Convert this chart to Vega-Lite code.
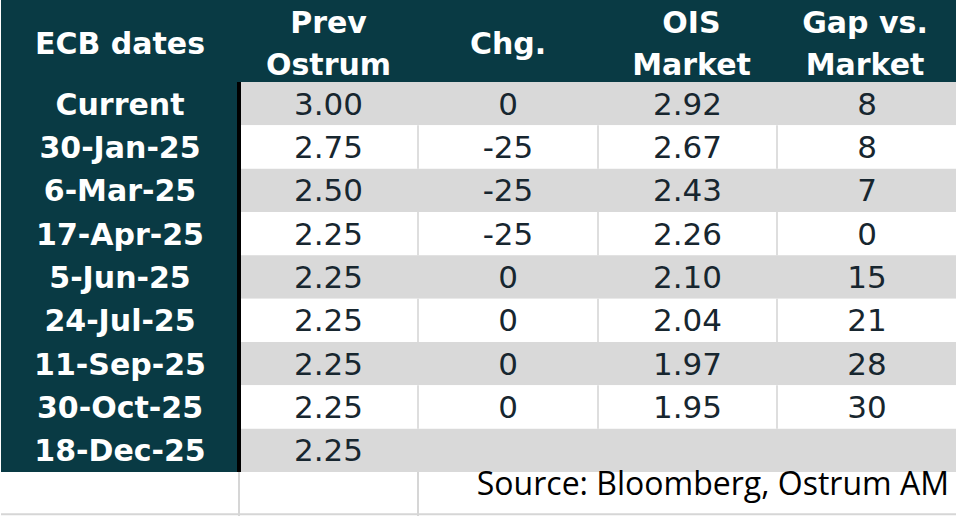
{
  "$schema": "https://vega.github.io/schema/vega-lite/v6.json",
  "padding": 0,
  "spacing": 0,
  "bounds": "flush",
  "background": "white",
  "config": {
    "view": {"stroke": null},
    "concat": {"spacing": 0},
    "locale": {"number": {"decimal": ".", "thousands": ",", "grouping": [3], "currency": ["", ""], "minus": "-"}}
  },
  "datasets": {
    "ecb": [
      {"date": "Current", "prev": 3.00, "chg": 0, "ois": 2.92, "gap": 8},
      {"date": "30-Jan-25", "prev": 2.75, "chg": -25, "ois": 2.67, "gap": 8},
      {"date": "6-Mar-25", "prev": 2.50, "chg": -25, "ois": 2.43, "gap": 7},
      {"date": "17-Apr-25", "prev": 2.25, "chg": -25, "ois": 2.26, "gap": 0},
      {"date": "5-Jun-25", "prev": 2.25, "chg": 0, "ois": 2.10, "gap": 15},
      {"date": "24-Jul-25", "prev": 2.25, "chg": 0, "ois": 2.04, "gap": 21},
      {"date": "11-Sep-25", "prev": 2.25, "chg": 0, "ois": 1.97, "gap": 28},
      {"date": "30-Oct-25", "prev": 2.25, "chg": 0, "ois": 1.95, "gap": 30},
      {"date": "18-Dec-25", "prev": 2.25, "chg": null, "ois": null, "gap": null}
    ]
  },
  "vconcat": [
    {
      "width": 956,
      "height": 82,
      "data": {"values": [{}]},
      "layer": [
        {
          "mark": {"type": "rect", "fill": "#093a44"},
          "encoding": {
            "x": {"datum": -0.5, "type": "quantitative", "axis": null, "scale": {"domain": [-0.5, 0.5, 1.5, 2.5, 3.5, 4.5], "range": [0, 238, 417, 597, 776, 956], "zero": false, "nice": false}},
            "x2": {"datum": 4.5},
            "y": {"datum": 0, "type": "quantitative", "axis": null, "scale": {"domain": [0, 1], "zero": false, "nice": false}},
            "y2": {"datum": 1}
          }
        },
        {
          "mark": {"type": "text", "font": "DejaVu Sans", "fontWeight": "bold", "fontSize": 30, "color": "white", "align": "center", "baseline": "middle", "dy": 4},
          "encoding": {
            "x": {"datum": 0, "type": "quantitative"},
            "y": {"datum": 0.5, "type": "quantitative"},
            "text": {"value": "ECB dates"}
          }
        },
        {
          "mark": {"type": "text", "font": "DejaVu Sans", "fontWeight": "bold", "fontSize": 30, "color": "white", "align": "center", "baseline": "middle", "lineHeight": 42, "dy": -17},
          "encoding": {
            "x": {"datum": 1, "type": "quantitative"},
            "y": {"datum": 0.5, "type": "quantitative"},
            "text": {"value": ["Prev", "Ostrum"]}
          }
        },
        {
          "mark": {"type": "text", "font": "DejaVu Sans", "fontWeight": "bold", "fontSize": 30, "color": "white", "align": "center", "baseline": "middle", "dy": 4},
          "encoding": {
            "x": {"datum": 2, "type": "quantitative"},
            "y": {"datum": 0.5, "type": "quantitative"},
            "text": {"value": "Chg."}
          }
        },
        {
          "mark": {"type": "text", "font": "DejaVu Sans", "fontWeight": "bold", "fontSize": 30, "color": "white", "align": "center", "baseline": "middle", "lineHeight": 42, "dy": -17, "dx": 4},
          "encoding": {
            "x": {"datum": 3, "type": "quantitative"},
            "y": {"datum": 0.5, "type": "quantitative"},
            "text": {"value": ["OIS", "Market"]}
          }
        },
        {
          "mark": {"type": "text", "font": "DejaVu Sans", "fontWeight": "bold", "fontSize": 30, "color": "white", "align": "center", "baseline": "middle", "lineHeight": 42, "dy": -17, "dx": -2},
          "encoding": {
            "x": {"datum": 4, "type": "quantitative"},
            "y": {"datum": 0.5, "type": "quantitative"},
            "text": {"value": ["Gap vs.", "Market"]}
          }
        }
      ]
    },
    {
      "width": 956,
      "height": 390,
      "data": {"name": "ecb"},
      "transform": [{"window": [{"op": "row_number", "as": "rn"}]}],
      "encoding": {
        "y": {"field": "date", "type": "nominal", "sort": null, "axis": null, "scale": {"paddingInner": 0, "paddingOuter": 0}}
      },
      "layer": [
        {
          "mark": {"type": "rect", "fill": "#093a44"},
          "encoding": {
            "x": {"datum": -0.5, "type": "quantitative", "axis": null, "scale": {"domain": [-0.5, 0.5, 1.5, 2.5, 3.5, 4.5], "range": [0, 238, 417, 597, 776, 956], "zero": false, "nice": false}},
            "x2": {"datum": 0.5},
            "y": null
          }
        },
        {
          "mark": {"type": "rect"},
          "encoding": {
            "x": {"datum": 0.5, "type": "quantitative"},
            "x2": {"datum": 4.5},
            "fill": {"condition": {"test": "datum.rn % 2 === 1", "value": "#d9d9d9"}, "value": "#ffffff"}
          }
        },
        {
          "mark": {"type": "rect", "strokeWidth": 1.5, "fill": null},
          "encoding": {
            "x": {"datum": 1.5, "type": "quantitative"},
            "x2": {"datum": 1.5},
            "stroke": {"condition": {"test": "datum.rn % 2 === 0", "value": "#d3d3d3"}, "value": "transparent"}
          }
        },
        {
          "mark": {"type": "rect", "strokeWidth": 1.5, "fill": null},
          "encoding": {
            "x": {"datum": 2.5, "type": "quantitative"},
            "x2": {"datum": 2.5},
            "stroke": {"condition": {"test": "datum.rn % 2 === 0", "value": "#d3d3d3"}, "value": "transparent"}
          }
        },
        {
          "mark": {"type": "rect", "strokeWidth": 1.5, "fill": null},
          "encoding": {
            "x": {"datum": 3.5, "type": "quantitative"},
            "x2": {"datum": 3.5},
            "stroke": {"condition": {"test": "datum.rn % 2 === 0", "value": "#d3d3d3"}, "value": "transparent"}
          }
        },
        {
          "mark": {"type": "rule", "color": "#000000", "strokeWidth": 3},
          "encoding": {
            "x": {"datum": 0.5, "type": "quantitative"},
            "y": null
          }
        },
        {
          "mark": {"type": "text", "font": "DejaVu Sans", "fontWeight": "bold", "fontSize": 30, "color": "white", "align": "center", "baseline": "middle", "dy": 2},
          "encoding": {
            "x": {"datum": 0, "type": "quantitative"},
            "text": {"field": "date", "type": "nominal"}
          }
        },
        {
          "mark": {"type": "text", "font": "DejaVu Sans", "fontSize": 31, "color": "#17262f", "align": "center", "baseline": "middle", "dy": 2},
          "encoding": {
            "x": {"datum": 1, "type": "quantitative"},
            "text": {"field": "prev", "type": "quantitative", "format": ".2f"}
          }
        },
        {
          "transform": [{"filter": "isValid(datum.chg)"}],
          "mark": {"type": "text", "font": "DejaVu Sans", "fontSize": 31, "color": "#17262f", "align": "center", "baseline": "middle", "dy": 2},
          "encoding": {
            "x": {"datum": 2, "type": "quantitative"},
            "text": {"field": "chg", "type": "quantitative", "format": "d"}
          }
        },
        {
          "transform": [{"filter": "isValid(datum.ois)"}],
          "mark": {"type": "text", "font": "DejaVu Sans", "fontSize": 31, "color": "#17262f", "align": "center", "baseline": "middle", "dy": 2},
          "encoding": {
            "x": {"datum": 3, "type": "quantitative"},
            "text": {"field": "ois", "type": "quantitative", "format": ".2f"}
          }
        },
        {
          "transform": [{"filter": "isValid(datum.gap)"}],
          "mark": {"type": "text", "font": "DejaVu Sans", "fontSize": 31, "color": "#17262f", "align": "center", "baseline": "middle", "dy": 2},
          "encoding": {
            "x": {"datum": 4, "type": "quantitative"},
            "text": {"field": "gap", "type": "quantitative", "format": "d"}
          }
        }
      ]
    },
    {
      "width": 956,
      "height": 44,
      "data": {"values": [{}]},
      "layer": [
        {
          "mark": {"type": "rule", "color": "#d6d6d6", "strokeWidth": 2},
          "encoding": {
            "x": {"datum": 0.5, "type": "quantitative", "axis": null, "scale": {"domain": [-0.5, 0.5, 1.5, 2.5, 3.5, 4.5], "range": [0, 238, 417, 597, 776, 956], "zero": false, "nice": false}}
          }
        },
        {
          "mark": {"type": "rule", "color": "#d6d6d6", "strokeWidth": 2},
          "encoding": {
            "x": {"datum": 1.5, "type": "quantitative"}
          }
        },
        {
          "mark": {"type": "rule", "color": "#d6d6d6", "strokeWidth": 2},
          "encoding": {
            "y": {"datum": 0.04, "type": "quantitative", "axis": null, "scale": {"domain": [0, 1], "zero": false, "nice": false}}
          }
        },
        {
          "mark": {"type": "text", "font": "Open Sans", "fontSize": 32, "color": "#000000", "align": "right", "baseline": "alphabetic", "dx": -8, "dy": 1},
          "encoding": {
            "x": {"datum": 4.5, "type": "quantitative"},
            "y": {"datum": 0.5, "type": "quantitative"},
            "text": {"value": "Source: Bloomberg, Ostrum AM"}
          }
        }
      ]
    }
  ]
}
